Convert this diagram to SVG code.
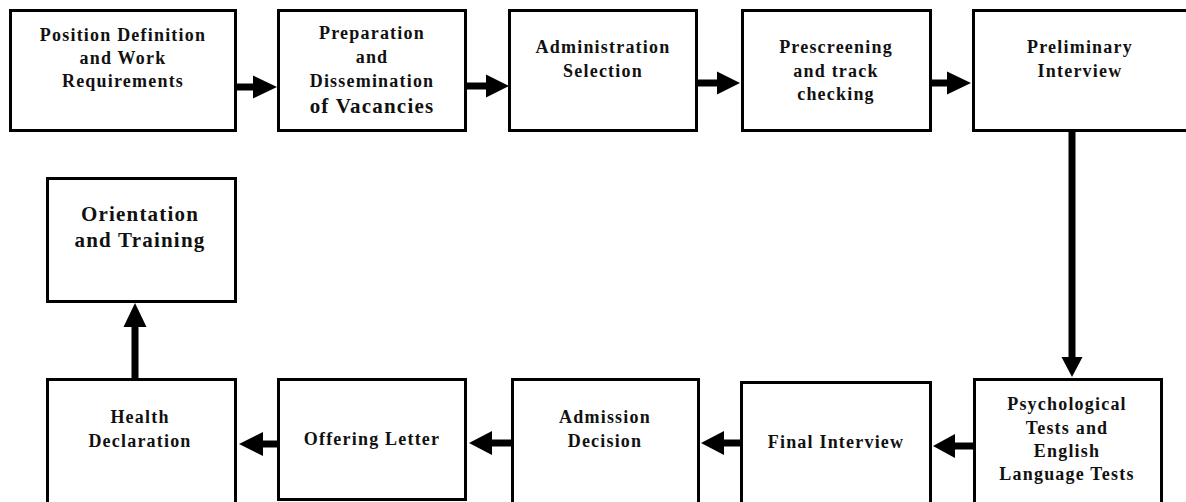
<svg xmlns="http://www.w3.org/2000/svg" width="1186" height="502" viewBox="0 0 1186 502">
<style>
.box{fill:#fff;stroke:#000;stroke-width:3}
.t{font-family:'Liberation Serif','DejaVu Serif',serif;font-weight:bold;font-size:18px;letter-spacing:1.2px;text-anchor:middle;fill:#111}
.big{font-size:21px}
.shaft{stroke:#000;stroke-width:7;fill:none}
.head{fill:#000}
</style>
<rect width="1186" height="502" fill="#fff"/>
<g id="connectors">
<line class="shaft" x1="237" y1="87" x2="256" y2="87"/><polygon class="head" points="253,75.5 277,87 253,98.5"/>
<line class="shaft" x1="467" y1="86" x2="489" y2="86"/><polygon class="head" points="486,74.5 509,86 486,97.5"/>
<line class="shaft" x1="698" y1="83" x2="720" y2="83"/><polygon class="head" points="717,71.5 740,83 717,94.5"/>
<line class="shaft" x1="932" y1="83" x2="950" y2="83"/><polygon class="head" points="947,71.5 971,83 947,94.5"/>
<line class="shaft" x1="1072" y1="132" x2="1072" y2="360"/><polygon class="head" points="1061.5,357 1082.5,357 1072,377"/>
<line class="shaft" x1="973" y1="446" x2="952" y2="446"/><polygon class="head" points="955,434 955,458 933,446"/>
<line class="shaft" x1="740" y1="443" x2="721" y2="443"/><polygon class="head" points="724,431 724,455 701,443"/>
<line class="shaft" x1="511" y1="443" x2="489" y2="443"/><polygon class="head" points="492,431 492,455 469,443"/>
<line class="shaft" x1="277" y1="444" x2="260" y2="444"/><polygon class="head" points="263,432 263,456 239,444"/>
<line class="shaft" x1="135" y1="378" x2="135" y2="324"/><polygon class="head" points="123.5,327 146.5,327 135,303"/>
</g>
<g font-family="Liberation Serif, DejaVu Serif, serif">
<g id="n1"><rect class="box" x="10.5" y="10.5" width="225" height="120"/>
<text class="t" x="123" y="41">Position Definition</text><text class="t" x="123" y="64">and Work</text><text class="t" x="123" y="87">Requirements</text></g>
<g id="n2"><rect class="box" x="278.5" y="10.5" width="187" height="120"/>
<text class="t" x="372" y="39">Preparation</text><text class="t" x="372" y="63">and</text><text class="t" x="372" y="87">Dissemination</text><text class="t big" x="372" y="113">of Vacancies</text></g>
<g id="n3"><rect class="box" x="509.5" y="10.5" width="187" height="120"/>
<text class="t" x="603" y="53">Administration</text><text class="t" x="603" y="77">Selection</text></g>
<g id="n4"><rect class="box" x="742.5" y="10.5" width="188" height="120"/>
<text class="t" x="836" y="53">Prescreening</text><text class="t" x="836" y="77">and track</text><text class="t" x="836" y="100">checking</text></g>
<g id="n5"><rect class="box" x="973.5" y="10.5" width="220" height="120"/>
<text class="t" x="1080" y="53">Preliminary</text><text class="t" x="1080" y="77">Interview</text></g>
<g id="n6"><rect class="box" x="974.5" y="379.5" width="187" height="130"/>
<text class="t" x="1067" y="410">Psychological</text><text class="t" x="1067" y="434">Tests and</text><text class="t" x="1067" y="457">English</text><text class="t" x="1067" y="480">Language Tests</text></g>
<g id="n7"><rect class="box" x="741.5" y="382.5" width="189" height="130"/>
<text class="t" x="836" y="448">Final Interview</text></g>
<g id="n8"><rect class="box" x="512.5" y="379.5" width="186" height="130"/>
<text class="t" x="605" y="423">Admission</text><text class="t" x="605" y="447">Decision</text></g>
<g id="n9"><rect class="box" x="278.5" y="379.5" width="187" height="120"/>
<text class="t" x="372" y="445">Offering Letter</text></g>
<g id="n10"><rect class="box" x="47.5" y="379.5" width="188" height="130"/>
<text class="t" x="140" y="423">Health</text><text class="t" x="140" y="447">Declaration</text></g>
<g id="n11"><rect class="box" x="47.5" y="178.5" width="188" height="123"/>
<text class="t big" x="140" y="221">Orientation</text><text class="t big" x="140" y="247">and Training</text></g>
</g>
</svg>
